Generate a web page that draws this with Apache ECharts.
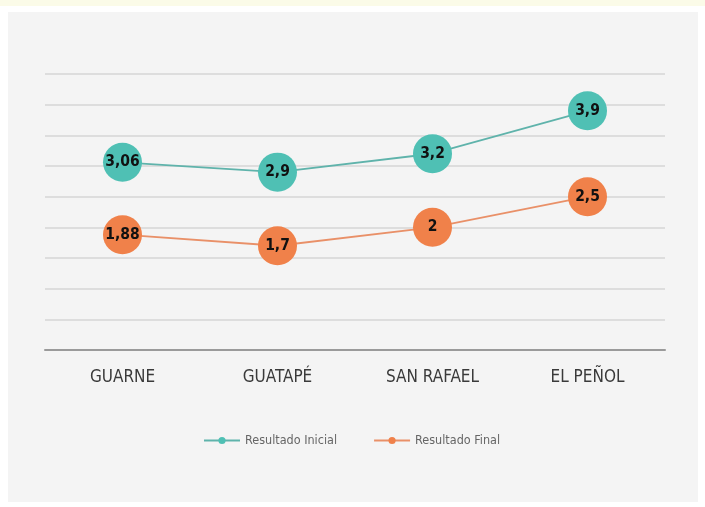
<!DOCTYPE html>
<html>
<head>
<meta charset="utf-8">
<script src="https://cdn.jsdelivr.net/npm/echarts@6/dist/echarts.min.js"></script>
<style>
html,body{margin:0;padding:0;background:#ffffff;width:705px;height:507px;overflow:hidden;}
#panel{position:absolute;left:8px;top:12px;width:690px;height:490px;background:#f4f4f4;}
#topband{position:absolute;left:0;top:0;width:705px;height:6px;background:#fbfbe8;}
#chart{position:absolute;left:0;top:0;width:705px;height:507px;}
</style>
</head>
<body>
<div id="topband"></div>
<div id="panel"></div>
<div id="chart"></div>
<script>
const categories = ['GUARNE', 'GUATAPÉ', 'SAN RAFAEL', 'EL PEÑOL'];
const resultadoInicial = [3.06, 2.9, 3.2, 3.9];
const resultadoFinal = [1.88, 1.7, 2, 2.5];
const seriesNames = ['Resultado Inicial', 'Resultado Final'];

const teal = '#4fc0b4';
const orange = '#f0814a';
const labelFont = '"DejaVu Sans Condensed", "Liberation Sans Narrow", sans-serif';

const chart = echarts.init(document.getElementById('chart'));
function fmt(p){ return String(p.value).replace('.', ','); }
chart.setOption({
  backgroundColor: 'transparent',
  animation: false,
  grid: {left: 45, right: 40, top: 74, bottom: 157},
  legend: {
    data: seriesNames,
    left: 198, top: 429,
    itemWidth: 36, itemHeight: 9, itemGap: 36,
    textStyle: {fontSize: 12.5, color: '#666', fontFamily: labelFont}
  },
  xAxis: {
    type: 'category',
    data: categories,
    boundaryGap: true,
    axisLine: {lineStyle: {color: '#9a9a9a', width: 2}},
    axisTick: {show: false},
    axisLabel: {fontSize: 17, color: '#3a3a3a', margin: 19, fontFamily: labelFont}
  },
  yAxis: {
    type: 'value',
    min: 0, max: 4.5, interval: 0.5,
    axisLabel: {show: false},
    axisLine: {show: false},
    axisTick: {show: false},
    splitLine: {lineStyle: {color: '#d6d6d6', width: 1.5}}
  },
  series: [
    {
      name: seriesNames[0], type: 'line', data: resultadoInicial,
      symbol: 'circle', symbolSize: 39,
      itemStyle: {color: teal},
      lineStyle: {color: '#5fb3ab', width: 1.8},
      label: {show: true, position: 'inside', formatter: fmt, color: '#111', fontSize: 15.5, fontWeight: 'bold', fontFamily: labelFont},
      z: 3
    },
    {
      name: seriesNames[1], type: 'line', data: resultadoFinal,
      symbol: 'circle', symbolSize: 39,
      itemStyle: {color: orange},
      lineStyle: {color: '#e99068', width: 1.8},
      label: {show: true, position: 'inside', formatter: fmt, color: '#111', fontSize: 15.5, fontWeight: 'bold', fontFamily: labelFont},
      z: 3
    }
  ]
});
</script>
</body>
</html>
